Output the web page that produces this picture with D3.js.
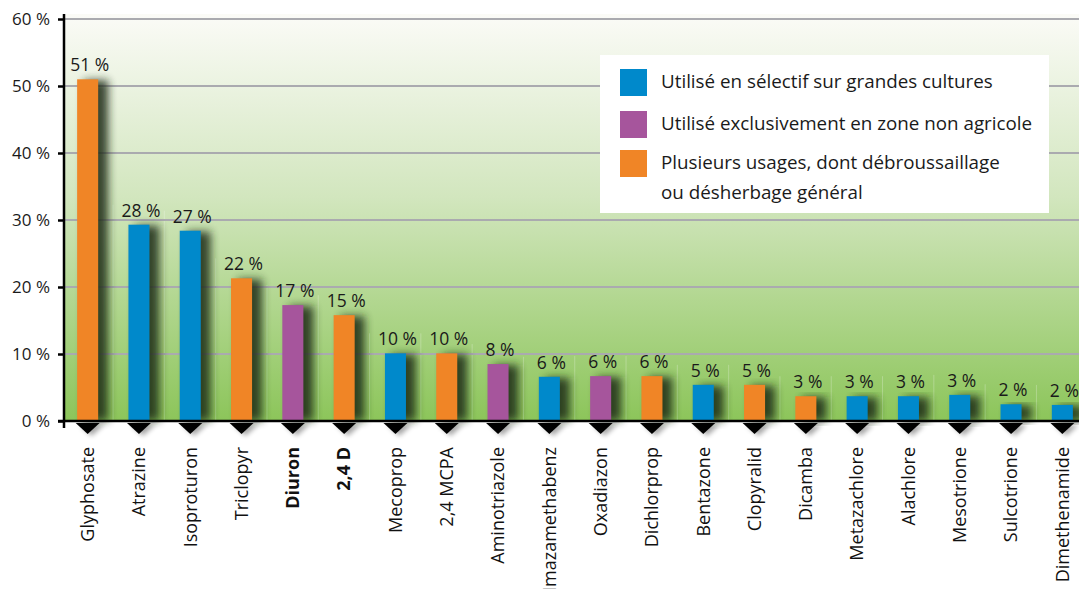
<!DOCTYPE html>
<html><head><meta charset="utf-8">
<script src="https://cdn.jsdelivr.net/npm/d3@7"></script>
<style>
body{margin:0;background:#fff;}
svg{display:block;font-family:"Open Sans",Lato,sans-serif;}
</style></head>
<body><svg id="c" width="1079" height="589"></svg>
<script>
const categories = ["Glyphosate","Atrazine","Isoproturon","Triclopyr","Diuron","2,4 D","Mecoprop","2,4 MCPA","Aminotriazole","Imazamethabenz","Oxadiazon","Dichlorprop","Bentazone","Clopyralid","Dicamba","Metazachlore","Alachlore","Mesotrione","Sulcotrione","Dimethenamide"];
const values = [51,29.3,28.4,21.3,17.3,15.8,10.1,10.1,8.5,6.6,6.7,6.7,5.4,5.4,3.7,3.7,3.7,3.9,2.5,2.4];
const valueLabels = ["51 %","28 %","27 %","22 %","17 %","15 %","10 %","10 %","8 %","6 %","6 %","6 %","5 %","5 %","3 %","3 %","3 %","3 %","2 %","2 %"];
const usage = ["plus","sel","sel","plus","nonag","plus","sel","plus","nonag","sel","nonag","plus","sel","plus","plus","sel","sel","sel","sel","sel"];
const boldCats = ["Diuron","2,4 D"];
const yTicks = [0,10,20,30,40,50,60];
const legendKeys = ["sel","nonag","plus"];
const legendLabels = [["Utilisé en sélectif sur grandes cultures"],["Utilisé exclusivement en zone non agricole"],["Plusieurs usages, dont débroussaillage","ou désherbage général"]];
const colors = {sel:"#0089cb", nonag:"#a6559c", plus:"#f08526"};

const svg = d3.select("#c");
const defs = svg.append("defs");
const bg = defs.append("linearGradient").attr("id","bg").attr("x1",0).attr("x2",0).attr("y1",0).attr("y2",1);
bg.append("stop").attr("offset","0%").attr("stop-color","#fbfbf7");
bg.append("stop").attr("offset","45%").attr("stop-color","#d2e6be");
bg.append("stop").attr("offset","100%").attr("stop-color","#8cc55a");
const f = defs.append("filter").attr("id","sh").attr("x","-50%").attr("y","-20%").attr("width","250%").attr("height","140%");
f.append("feGaussianBlur").attr("stdDeviation",4);
const f2 = defs.append("filter").attr("id","sh2").attr("x","-50%").attr("y","-50%").attr("width","200%").attr("height","200%");
f2.append("feGaussianBlur").attr("stdDeviation",2.5);

const x0 = 64, y0 = 421;
const x = d3.scaleBand().domain(categories).range([62,1088]).paddingInner(0.59).paddingOuter(0.295);
const y = d3.scaleLinear().domain([0,60]).range([y0,19]);

// background
svg.append("rect").attr("x",x0).attr("y",14).attr("width",1079-x0).attr("height",y0-14).attr("fill","url(#bg)");
// faint vertical separators
svg.append("g").selectAll("line").data(categories).join("line")
  .attr("x1",d=>x(d)-x.step()*0.3).attr("x2",d=>x(d)-x.step()*0.3)
  .attr("y1",y(0)).attr("y2",d=>y(values[categories.indexOf(d)])-20)
  .attr("stroke","#ffffff").attr("stroke-opacity",0.25).attr("stroke-width",1);

// grid
svg.append("g").selectAll("line").data(yTicks.filter(t=>t>0)).join("line")
  .attr("x1",x0).attr("x2",1079).attr("y1",d=>y(d)).attr("y2",d=>y(d))
  .attr("stroke","#aaaaaf").attr("stroke-width",2);

// shadows
svg.append("g").selectAll("rect").data(categories).join("rect")
  .attr("x",d=>x(d)+7).attr("width",x.bandwidth()+3)
  .attr("y",(d,i)=>y(values[i])+1).attr("height",(d,i)=>y0-y(values[i])-1)
  .attr("fill","#1f2a18").attr("opacity",0.85).attr("filter","url(#sh)");
// bars
svg.append("g").selectAll("rect").data(categories).join("rect")
  .attr("x",d=>x(d)).attr("width",x.bandwidth())
  .attr("y",(d,i)=>y(values[i])).attr("height",(d,i)=>y0-y(values[i]))
  .attr("fill",(d,i)=>colors[usage[i]]);
// value labels
svg.append("g").selectAll("text").data(categories).join("text")
  .attr("x",d=>x(d)+x.bandwidth()/2+2).attr("y",(d,i)=>y(values[i])-8)
  .attr("text-anchor","middle").attr("font-size",17.5).attr("fill","#1a1a1a")
  .text((d,i)=>valueLabels[i]);

// triangle shadows + triangles
svg.append("g").selectAll("path").data(categories).join("path")
  .attr("d",d=>{const c=x(d)+x.bandwidth()/2+4;return `M${c-12},${y0+4}L${c+12},${y0+4}L${c},${y0+15}Z`;})
  .attr("fill","#000").attr("opacity",0.35).attr("filter","url(#sh2)");
svg.append("g").selectAll("path").data(categories).join("path")
  .attr("d",d=>{const c=x(d)+x.bandwidth()/2;return `M${c-12},${y0+2}L${c+12},${y0+2}L${c},${y0+13}Z`;})
  .attr("fill","#000");

// axes
const ya = svg.append("g").attr("transform",`translate(${x0},0)`)
  .call(d3.axisLeft(y).tickValues(yTicks).tickSize(6).tickFormat(d=>d+" %"));
ya.select(".domain").attr("d",`M0,14V428`).attr("stroke","#000").attr("stroke-width",2.5);
ya.selectAll(".tick line").attr("stroke","#000").attr("stroke-width",2.5);
ya.selectAll(".tick text").attr("font-size",17).attr("font-family","'Open Sans',Lato,sans-serif").attr("fill","#1a1a1a").attr("x",-14);
svg.append("line").attr("x1",x0-6).attr("x2",1079).attr("y1",y0).attr("y2",y0).attr("stroke","#000").attr("stroke-width",2.5);

// category labels
svg.append("g").selectAll("text").data(categories).join("text")
  .attr("transform",d=>`translate(${x(d)+x.bandwidth()/2},447) rotate(-90)`)
  .attr("dy","0.35em").attr("text-anchor","end").attr("font-size",18).attr("fill","#111")
  .attr("font-weight",d=>boldCats.includes(d)?"bold":"normal")
  .text(d=>d);

// legend
const lg = svg.append("g");
lg.append("rect").attr("x",600).attr("y",55).attr("width",449).attr("height",158).attr("fill","#fff");
const ly = [69,111,150];
legendKeys.forEach((k,i)=>{
  lg.append("rect").attr("x",620).attr("y",ly[i]).attr("width",27).attr("height",27).attr("fill",colors[k]);
  legendLabels[i].forEach((t,j)=>{
    lg.append("text").attr("x",661).attr("y",ly[i]+19+j*30).attr("font-size",18.8).attr("fill","#1a1a1a").text(t);
  });
});
</script></body></html>
